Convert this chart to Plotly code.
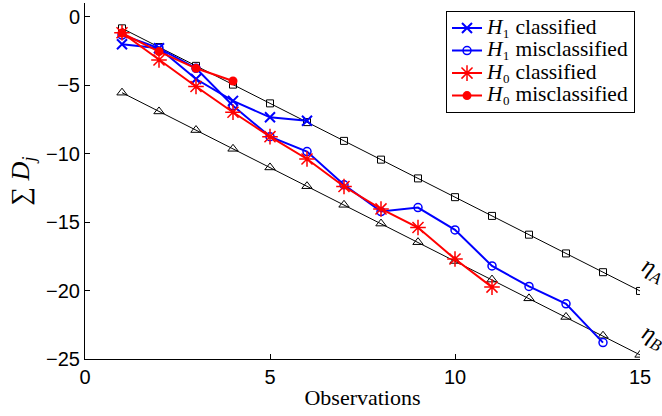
import plotly.graph_objects as go

obs = list(range(1, 16))
eta_a = [-0.85, -2.22, -3.59, -4.96, -6.33, -7.70, -9.07, -10.44, -11.81, -13.18,
         -14.55, -15.92, -17.29, -18.66, -20.03]
eta_b = [-5.55, -6.92, -8.28, -9.65, -11.01, -12.38, -13.74, -15.11, -16.47, -17.84,
         -19.20, -20.57, -21.93, -23.30, -24.70]

h1c_x = [1, 2, 3, 4, 5, 6]
h1c_y = [-2.01, -2.3, -4.55, -6.15, -7.35, -7.6]

h1m_x = list(range(1, 15))
h1m_y = [-1.34, -2.3, -3.77, -6.5, -8.76, -9.85, -12.28, -14.23, -13.94, -15.57,
         -18.2, -19.7, -20.97, -23.8]

h0c_x = list(range(1, 12))
h0c_y = [-1.17, -3.16, -5.1, -6.98, -8.76, -10.39, -12.4, -14.04, -15.4, -17.7, -19.75]

h0m_x = [1, 2, 3, 4]
h0m_y = [-1.2, -2.55, -3.77, -4.7]

serif = "Liberation Serif, Times New Roman, serif"
sans = "Liberation Sans, Arial, Helvetica, sans-serif"


def big(s):
    return '<span style="font-size:21.5px">' + s + '</span>'


fig = go.Figure()
fig.add_trace(go.Scatter(x=obs, y=eta_a, mode="lines+markers", showlegend=False,
                         line=dict(color="black", width=1),
                         marker=dict(symbol="square-open", size=7, color="black",
                                     line=dict(width=1, color="black"))))
fig.add_trace(go.Scatter(x=obs, y=eta_b, mode="lines+markers", showlegend=False,
                         line=dict(color="black", width=1),
                         marker=dict(symbol="triangle-up-open", size=9, color="black",
                                     line=dict(width=1, color="black"))))
fig.add_trace(go.Scatter(x=h1c_x, y=h1c_y, mode="lines+markers",
                         name=big("<i>H</i>₁ classified"),
                         line=dict(color="#0000ff", width=2),
                         marker=dict(symbol="x-thin-open", size=10, color="#0000ff",
                                     line=dict(width=2, color="#0000ff"))))
fig.add_trace(go.Scatter(x=h1m_x, y=h1m_y, mode="lines+markers",
                         name=big("<i>H</i>₁ misclassified"),
                         line=dict(color="#0000ff", width=2),
                         marker=dict(symbol="circle-open", size=8, color="#0000ff",
                                     line=dict(width=1.5, color="#0000ff"))))
fig.add_trace(go.Scatter(x=h0c_x, y=h0c_y, mode="lines+markers",
                         name=big("<i>H</i>₀ classified"),
                         line=dict(color="#ff0000", width=2),
                         marker=dict(symbol="asterisk-open", size=13, color="#ff0000",
                                     line=dict(width=1.5, color="#ff0000"))))
fig.add_trace(go.Scatter(x=h0m_x, y=h0m_y, mode="lines+markers",
                         name=big("<i>H</i>₀ misclassified"),
                         line=dict(color="#ff0000", width=2),
                         marker=dict(symbol="circle", size=9, color="#ff0000")))

fig.add_annotation(x=15, y=-18.5, text="<i>η<sub>A</sub></i>", showarrow=False,
                   xanchor="center", yanchor="middle", textangle=27, xshift=13,
                   font=dict(family=serif, size=24, color="black"))
fig.add_annotation(x=15, y=-23.4, text="<i>η<sub>B</sub></i>", showarrow=False,
                   xanchor="center", yanchor="middle", textangle=27, xshift=13,
                   font=dict(family=serif, size=24, color="black"))

fig.update_layout(
    width=662, height=416,
    margin=dict(l=85, r=22, t=3, b=57),
    plot_bgcolor="white", paper_bgcolor="white",
    legend=dict(x=0.991, y=0.978, xanchor="right", yanchor="top",
                bordercolor="black", borderwidth=1, bgcolor="white",
                font=dict(family=serif, size=15, color="black"),
                tracegroupgap=0, itemwidth=30),
)
fig.update_xaxes(range=[0, 15], tickvals=[0, 5, 10, 15], ticks="inside", ticklen=5,
                 showline=True, linecolor="black", linewidth=1, showgrid=False,
                 zeroline=False, mirror=False, tickcolor="black",
                 tickfont=dict(family=sans, size=20, color="black"),
                 title=dict(text="Observations", standoff=2,
                            font=dict(family=serif, size=22, color="black")))
fig.update_yaxes(range=[-25, 1], tickvals=[0, -5, -10, -15, -20, -25], ticks="inside",
                 ticklen=5, showline=True, linecolor="black", linewidth=1,
                 showgrid=False, zeroline=False, tickcolor="black",
                 tickfont=dict(family=sans, size=20, color="black"),
                 title=dict(text="∑ <i>D</i><sub><i>j</i></sub>", standoff=8,
                            font=dict(family=serif, size=26, color="black")))

fig.write_html("out.html", config={"displayModeBar": False},
               post_script="document.body.style.margin='0px';document.body.style.padding='0px';")
